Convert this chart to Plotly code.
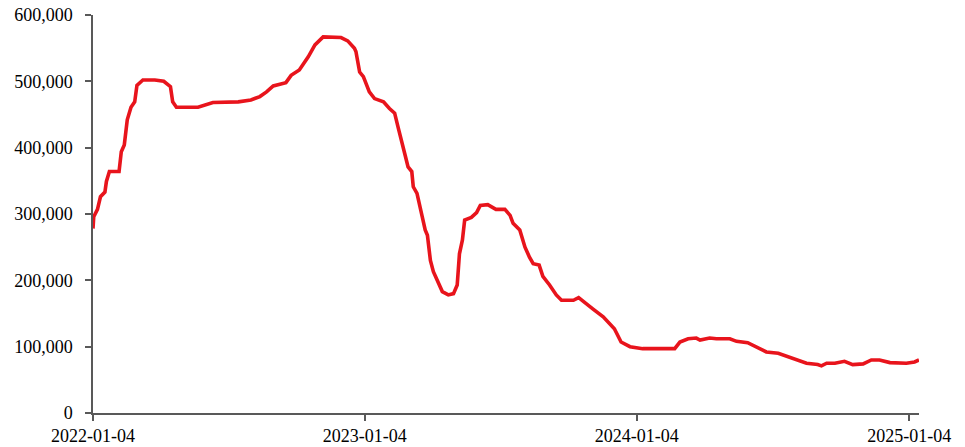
import pandas as pd
import plotly.graph_objects as go

start_date = "2022-01-04"
# days elapsed since start_date for each observation
day_offsets = [
    0, 1, 6, 10, 16, 18, 22, 35, 38, 42, 46, 51, 56, 59, 67, 83, 95, 104, 107, 112,
    141, 154, 161, 195, 212, 224, 233, 242, 259, 266, 277, 289, 298, 309, 333, 342,
    351, 353, 358, 363, 371, 378, 390, 398, 405, 410, 416, 419, 423, 428, 430, 435,
    442, 446, 449, 453, 457, 462, 469, 477, 484, 489, 492, 496, 499, 508, 515, 520,
    530, 541, 553, 560, 564, 573, 580, 586, 591, 599, 604, 613, 622, 629, 645, 652,
    663, 671, 685, 696, 700, 709, 721, 738, 761, 781, 788, 799, 810, 815, 828, 837,
    855, 864, 879, 891, 904, 920, 935, 946, 958, 973, 978, 985, 996, 1009, 1020,
    1034, 1045, 1056, 1070, 1092, 1103, 1109,
]
values = [
    278000, 296000, 307000, 326000, 333000, 349000, 364000, 364000, 394000, 404000,
    442000, 461000, 469000, 494000, 502000, 502000, 500000, 492000, 469000, 461000,
    461000, 466000, 468000, 469000, 472000, 477000, 484000, 493000, 498000, 509000,
    517000, 537000, 555000, 567000, 566000, 561000, 550000, 545000, 514000, 507000,
    484000, 474000, 469000, 459000, 452000, 429000, 399000, 389000, 371000, 364000,
    341000, 331000, 296000, 276000, 268000, 230000, 213000, 201000, 183000, 178000,
    180000, 193000, 240000, 261000, 291000, 295000, 302000, 313000, 314000, 307000,
    307000, 298000, 286000, 276000, 250000, 235000, 225000, 223000, 206000, 193000,
    178000, 170000, 170000, 174000, 165000, 157000, 145000, 132000, 127000, 107000,
    100000, 97000, 97000, 97000, 107000, 112000, 113000, 110000, 113000, 112000,
    112000, 108000, 106000, 99000, 92000, 90000, 84000, 80000, 75000, 73000,
    71000, 75000, 75000, 78000, 73000, 74000, 80000, 80000, 76000, 75000,
    77000, 80000,
]
x_tick_dates = ["2022-01-04", "2023-01-04", "2024-01-04", "2025-01-04"]
y_tick_values = [0, 100000, 200000, 300000, 400000, 500000, 600000]
y_tick_labels = ["0", "100,000", "200,000", "300,000", "400,000", "500,000", "600,000"]
x_end_date = "2025-01-17"

dates = pd.Timestamp(start_date) + pd.to_timedelta(day_offsets, unit="D")

fig = go.Figure()
fig.add_trace(go.Scatter(
    x=dates, y=values, mode="lines",
    line=dict(color="#E8141C", width=3.6),
    hoverinfo="skip",
))

axis_color = "#595959"
font = dict(family="Liberation Serif, Times New Roman, serif", size=18, color="#000000")

fig.update_layout(
    width=965, height=447,
    margin=dict(l=93, r=46, t=15, b=34),
    paper_bgcolor="white", plot_bgcolor="white",
    showlegend=False,
    font=font,
    xaxis=dict(
        type="date",
        range=[start_date, x_end_date],
        tickmode="array",
        tickvals=x_tick_dates,
        ticktext=x_tick_dates,
        showgrid=False, zeroline=False,
        showline=True, linecolor=axis_color, linewidth=1.5,
        ticks="outside", ticklen=6, tickcolor=axis_color, tickwidth=1.5,
        tickfont=font, automargin=False, ticklabeloverflow="allow",
    ),
    yaxis=dict(
        range=[0, 600000],
        tickmode="array",
        tickvals=y_tick_values,
        ticktext=y_tick_labels,
        showgrid=False, zeroline=False,
        showline=True, linecolor=axis_color, linewidth=1.5,
        ticks="outside", ticklen=6, tickcolor=axis_color, tickwidth=1.5,
        tickfont=font, automargin=False, ticklabeloverflow="allow",
        ticklabelstandoff=9,
    ),
)

# remove the browser's default 8px page margin so the figure fills the window
fig.write_html(
    "out.html",
    config={"displayModeBar": False},
    post_script="document.body.style.margin='0';document.body.style.overflow='hidden';",
)
